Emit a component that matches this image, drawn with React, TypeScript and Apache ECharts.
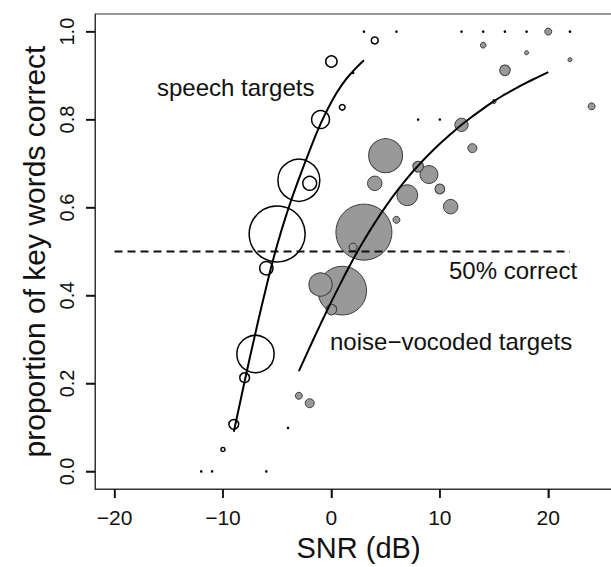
import React, { useEffect, useRef } from "react";
import * as echarts from "echarts";

// Axis ticks
const xTicks = [-20, -10, 0, 10, 20];
const yTicks = [0, 0.2, 0.4, 0.6, 0.8, 1.0];

// Speech targets: SNR, proportion correct, number of observations (bubble weight)
const speechX = [-12, -11, -6, -10, -9, -8, -7, -6, -5, -3, -2, -1, 0, 1, 2, 4, 3, 6];
const speechY = [0, 0, 0, 0.05, 0.107, 0.213, 0.267, 0.462, 0.54, 0.662, 0.655, 0.8, 0.932, 0.828, 0.906, 0.98, 1, 1];
const speechN = [0, 0, 0, 1, 6, 6, 87, 11, 196, 110, 12, 20, 8, 2, 0, 3, 0, 0];

// Noise-vocoded targets
const noiseX = [-4, -3, -2, -1, 0, 1, 2, 3, 4, 5, 6, 7, 8, 9, 10, 11, 12, 13, 14, 15, 16, 18, 20, 22, 24, 8, 10, 12, 14, 16, 18, 22];
const noiseY = [0.099, 0.172, 0.155, 0.425, 0.368, 0.411, 0.51, 0.544, 0.655, 0.718, 0.572, 0.628, 0.693, 0.675, 0.642, 0.602, 0.788, 0.735, 0.969, 0.841, 0.912, 0.952, 1.0, 0.936, 0.83, 0.8, 0.8, 1, 1, 1, 1, 1];
const noiseN = [0, 3, 5, 34, 7, 148, 4, 196, 13, 72, 3, 27, 7, 20, 6, 13, 11, 5, 2, 1, 7, 1, 3, 1, 3, 0, 0, 0, 0, 0, 0, 0];

// Fitted curves
const speechFitX = [-9, -8, -7, -6, -5, -4, -3, -2, -1, 0, 1, 2, 3];
const speechFitY = [0.09, 0.205, 0.315, 0.42, 0.515, 0.595, 0.665, 0.73, 0.79, 0.84, 0.88, 0.91, 0.935];
const noiseFitX = [-3, -2, -1, 0, 1, 2, 3, 4, 5, 6, 7, 8, 9, 10, 11, 12, 13, 14, 15, 16, 17, 18, 19, 20];
const noiseFitY = [0.228, 0.282, 0.335, 0.386, 0.435, 0.482, 0.525, 0.565, 0.602, 0.636, 0.667, 0.695, 0.721, 0.745, 0.767, 0.788, 0.807, 0.825, 0.842, 0.857, 0.871, 0.884, 0.896, 0.908];

// 50% reference line
const refX = [-20, 22];
const refY = 0.5;

const X_MIN = -21.8;
const X_MAX = 26.8;
const Y_MIN = -0.04;
const Y_MAX = 1.04;

const FONT = "'Liberation Sans', Arial, Helvetica, sans-serif";

function bubbles(xs: number[], ys: number[], ns: number[]) {
  const items = xs.map((x, i) => ({ x, y: ys[i], n: ns[i] }));
  items.sort((a, b) => b.n - a.n);
  return items.map((d) => ({
    value: [d.x, d.y, d.n],
    itemStyle: d.n === 0 ? { color: "#000", borderWidth: 0 } : undefined,
  }));
}

const sizeOf = (v: number[]) => (v[2] === 0 ? 2.6 : 4 * Math.sqrt(v[2]));

const annotations = [
  { text: "speech targets", x: 157, y: 87 },
  { text: "50% correct", x: 449, y: 270 },
  { text: "noise\u2212vocoded targets", x: 330, y: 341 },
];

export default function App() {
  const ref = useRef<HTMLDivElement>(null);
  useEffect(() => {
    const chart = echarts.init(ref.current!, null, { renderer: "svg" });

    const option: any = {
      animation: false,
      grid: {
        left: 95,
        top: 14,
        right: 18,
        bottom: 76,
        show: true,
        borderColor: "#333",
        borderWidth: 1,
      },
      xAxis: {
        type: "value",
        min: X_MIN,
        max: X_MAX,
        axisLine: { show: true, onZero: false, lineStyle: { color: "#333", width: 1 } },
        splitLine: { show: false },
        axisTick: { show: true, length: 9, lineStyle: { color: "#111", width: 1.5 }, customValues: xTicks },
        axisLabel: {
          customValues: xTicks,
          formatter: (v: number) => String(v).replace("-", "\u2212"),
          fontSize: 21,
          color: "#111",
          margin: 18,
          fontFamily: FONT,
        },
        name: "SNR (dB)",
        nameLocation: "middle",
        nameGap: 44,
        nameTextStyle: { fontSize: 29, color: "#111", fontFamily: FONT },
      },
      yAxis: {
        type: "value",
        min: Y_MIN,
        max: Y_MAX,
        axisLine: { show: true, onZero: false, lineStyle: { color: "#333", width: 1 } },
        splitLine: { show: false },
        axisTick: { show: true, length: 9, lineStyle: { color: "#111", width: 1.5 }, customValues: yTicks },
        axisLabel: {
          customValues: yTicks,
          formatter: (v: number) => v.toFixed(1),
          rotate: 90,
          fontSize: 20,
          color: "#111",
          margin: 18,
          fontFamily: FONT,
        },
        name: "proportion of key words correct",
        nameLocation: "middle",
        nameGap: 46,
        nameTextStyle: { fontSize: 30, color: "#111", fontFamily: FONT },
      },
      series: [
        {
          type: "scatter",
          data: bubbles(noiseX, noiseY, noiseN),
          symbol: "circle",
          symbolSize: sizeOf,
          itemStyle: { color: "#999999", borderColor: "#3a3a3a", borderWidth: 1, opacity: 1 },
          z: 2,
        },
        {
          type: "scatter",
          data: bubbles(speechX, speechY, speechN),
          symbol: "circle",
          symbolSize: sizeOf,
          itemStyle: { color: "rgba(0,0,0,0)", borderColor: "#000", borderWidth: 1.5, opacity: 1 },
          z: 3,
        },
        {
          type: "line",
          data: refX.map((x) => [x, refY]),
          symbol: "none",
          lineStyle: { color: "#111", width: 1.8, type: [8, 5] },
          z: 4,
        },
        {
          type: "line",
          data: speechFitX.map((x, i) => [x, speechFitY[i]]),
          symbol: "none",
          smooth: true,
          lineStyle: { color: "#000", width: 2 },
          z: 5,
        },
        {
          type: "line",
          data: noiseFitX.map((x, i) => [x, noiseFitY[i]]),
          symbol: "none",
          smooth: true,
          lineStyle: { color: "#000", width: 2 },
          z: 5,
        },
      ],
    };
    chart.setOption(option);

    // Tick marks as thin filled rects, positioned through the chart's own scales
    const tickLen = 9;
    const tickW = 1.4;
    const tickEls: any[] = [];
    xTicks.forEach((v) => {
      const p = chart.convertToPixel({ xAxisIndex: 0, yAxisIndex: 0 }, [v, Y_MIN]) as number[];
      tickEls.push({
        type: "rect",
        z: 200,
        silent: true,
        shape: { x: p[0] - tickW / 2, y: p[1], width: tickW, height: tickLen },
        style: { fill: "#111" },
      });
    });
    yTicks.forEach((v) => {
      const p = chart.convertToPixel({ xAxisIndex: 0, yAxisIndex: 0 }, [X_MIN, v]) as number[];
      tickEls.push({
        type: "rect",
        z: 200,
        silent: true,
        shape: { x: p[0] - tickLen, y: p[1] - tickW / 2, width: tickLen, height: tickW },
        style: { fill: "#111" },
      });
    });
    const textEls = annotations.map((a) => ({
      type: "text",
      x: a.x,
      y: a.y,
      z: 100,
      style: { text: a.text, fontSize: 24, fontFamily: FONT, fill: "#111", verticalAlign: "middle" },
    }));
    chart.setOption({ graphic: [...tickEls, ...textEls] });

    return () => chart.dispose();
  }, []);
  return (
    <div
      ref={ref}
      style={{ position: "fixed", left: 0, top: 0, width: 640, height: 567, background: "#fff" }}
    />
  );
}
